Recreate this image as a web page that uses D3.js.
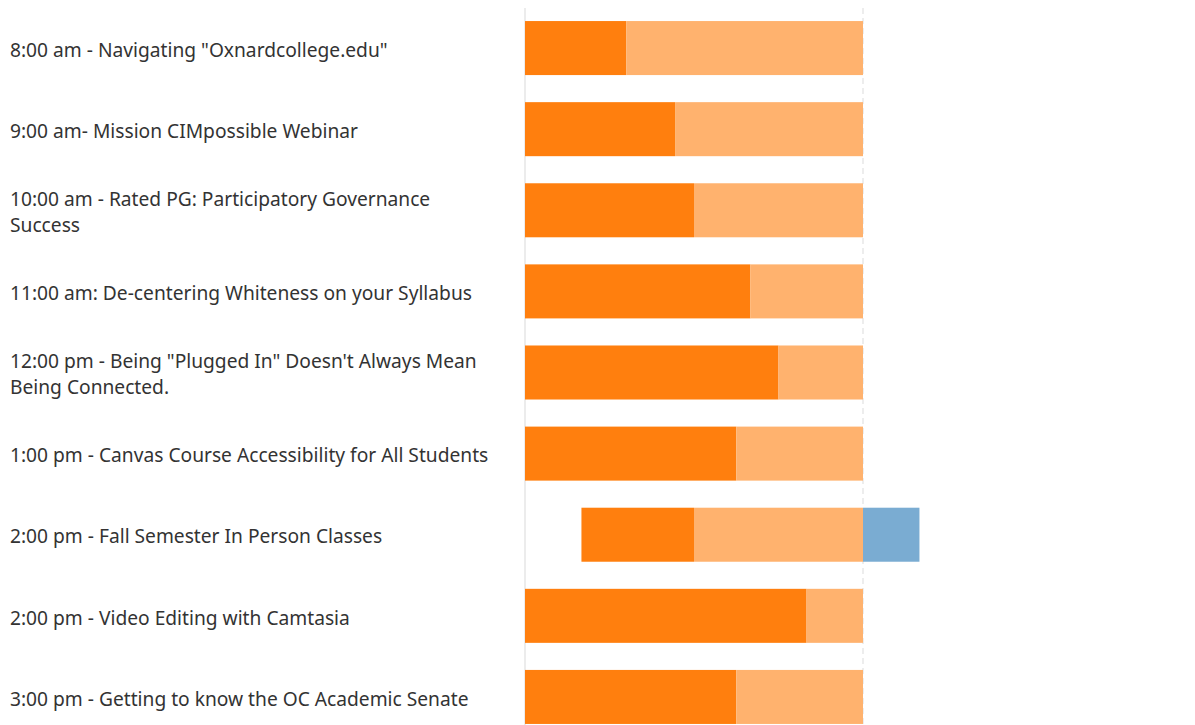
<!DOCTYPE html>
<html>
<head>
<meta charset="utf-8">
<script src="https://cdn.jsdelivr.net/npm/d3@7"></script>
<style>
  html, body { margin: 0; padding: 0; background: #fff; }
  svg { display: block; }
</style>
</head>
<body>
<div id="chart"></div>
<script>
// == DATA ==
const sessions = [
  '8:00 am - Navigating "Oxnardcollege.edu"',
  '9:00 am- Mission CIMpossible Webinar',
  '10:00 am - Rated PG: Participatory Governance Success',
  '11:00 am: De-centering Whiteness on your Syllabus',
  '12:00 pm - Being "Plugged In" Doesn\'t Always Mean Being Connected.',
  '1:00 pm - Canvas Course Accessibility for All Students',
  '2:00 pm - Fall Semester In Person Classes',
  '2:00 pm - Video Editing with Camtasia',
  '3:00 pm - Getting to know the OC Academic Senate'
];
// percentages, left of center (strong, mild) and right of center (positive)
const strongNeg = [30, 44.4, 50, 66.7, 75, 62.5, 33.3, 83.3, 62.5];
const mildNeg   = [70, 55.6, 50, 33.3, 25, 37.5, 50, 16.7, 37.5];
const mildPos   = [0, 0, 0, 0, 0, 0, 16.7, 0, 0];

// == CONFIG ==
const W = 1195, H = 725;
const COLOR_STRONG = '#ff7f0e';
const COLOR_MILD = '#ffb26e';
const COLOR_POS = '#7aacd2';
const LABEL_X = 10;
const LABEL_MAX = 490;

const svg = d3.select('#chart').append('svg')
  .attr('width', W)
  .attr('height', H);

const x = d3.scaleLinear().domain([-100, 100]).range([525, 1201]);
const y = d3.scaleBand().domain(sessions).range([7.5, 737.5]).paddingInner(0.334).paddingOuter(0.167);

// gridlines
svg.append('line')
  .attr('x1', x(-100)).attr('x2', x(-100))
  .attr('y1', 8).attr('y2', H)
  .attr('stroke', '#ececec').attr('stroke-width', 2);

svg.append('line')
  .attr('x1', x(0)).attr('x2', x(0))
  .attr('y1', 8).attr('y2', H)
  .attr('stroke', '#ededed').attr('stroke-width', 2)
  .attr('stroke-dasharray', '6,4');

// build segments
const segs = [];
sessions.forEach((s, i) => {
  const start = -(strongNeg[i] + mildNeg[i]);
  segs.push({ s, x0: start, x1: start + strongNeg[i], c: COLOR_STRONG });
  segs.push({ s, x0: start + strongNeg[i], x1: 0, c: COLOR_MILD });
  if (mildPos[i] > 0) segs.push({ s, x0: 0, x1: mildPos[i], c: COLOR_POS });
});

svg.append('g').selectAll('rect').data(segs).enter().append('rect')
  .attr('x', d => x(d.x0))
  .attr('width', d => x(d.x1) - x(d.x0))
  .attr('y', d => y(d.s))
  .attr('height', y.bandwidth())
  .attr('fill', d => d.c);

// labels with wrapping
const labels = svg.append('g').selectAll('text').data(sessions).enter().append('text')
  .attr('x', LABEL_X)
  .attr('font-family', '"Segoe UI", "Noto Sans", sans-serif')
  .attr('font-size', '19.2px')
  .attr('fill', '#333');

labels.each(function (d) {
  const t = d3.select(this);
  const words = d.split(' ');
  const lines = [];
  let line = [];
  const probe = t.append('tspan');
  words.forEach(w => {
    line.push(w);
    probe.text(line.join(' '));
    if (probe.node().getComputedTextLength() > LABEL_MAX && line.length > 1) {
      line.pop();
      lines.push(line.join(' '));
      line = [w];
    }
  });
  lines.push(line.join(' '));
  probe.remove();
  const lh = 26;
  const cy = y(d) + y.bandwidth() / 2 + 2;
  const top = cy - (lines.length - 1) * lh / 2;
  lines.forEach((l, k) => {
    t.append('tspan')
      .attr('x', LABEL_X)
      .attr('y', top + k * lh)
      .attr('dy', '0.35em')
      .text(l);
  });
});
</script>
</body>
</html>
